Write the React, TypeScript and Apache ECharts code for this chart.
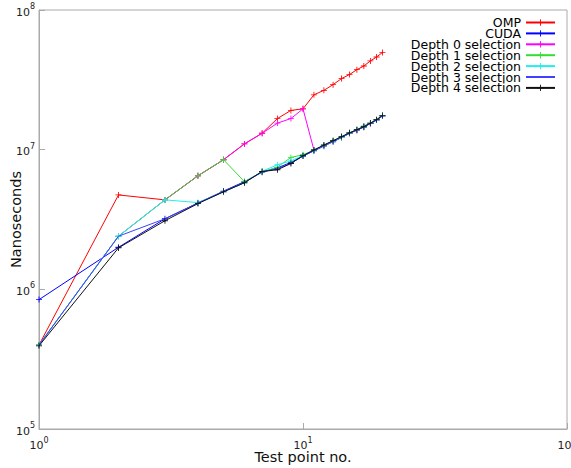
import React, { useEffect, useRef } from "react";
import * as echarts from "echarts";

const testPoints = [1, 2, 3, 4, 5, 6, 7, 8, 9, 10, 11, 12, 13, 14, 15, 16, 17, 18, 19, 20];

const ompValues = [4.0e5, 4.74e6, 4.37e6, 6.5e6, 8.47e6, 1.1e7, 1.31e7, 1.67e7, 1.91e7, 1.96e7, 2.47e7, 2.66e7, 2.92e7, 3.23e7, 3.45e7, 3.74e7, 3.97e7, 4.32e7, 4.61e7, 4.97e7];
const cudaValues = [8.44e5, 2.0e6, 3.2e6, 4.15e6, 5.05e6, 5.9e6, 6.9e6, 7.4e6, 8.1e6, 9.0e6, 9.8e6, 1.06e7, 1.14e7, 1.22e7, 1.31e7, 1.38e7, 1.45e7, 1.54e7, 1.63e7, 1.74e7];
const depth0Values = [4.0e5, 2.4e6, 4.37e6, 6.5e6, 8.47e6, 1.1e7, 1.31e7, 1.55e7, 1.67e7, 1.96e7, 9.95e6, 1.07e7, 1.15e7, 1.23e7, 1.31e7, 1.38e7, 1.47e7, 1.54e7, 1.63e7, 1.75e7];
const depth1Values = [4.0e5, 2.4e6, 4.37e6, 6.5e6, 8.47e6, 5.9e6, 6.95e6, 7.5e6, 8.8e6, 9.2e6, 9.9e6, 1.07e7, 1.16e7, 1.22e7, 1.32e7, 1.39e7, 1.48e7, 1.55e7, 1.64e7, 1.76e7];
const depth2Values = [4.0e5, 2.4e6, 4.37e6, 4.18e6, 5.0e6, 5.8e6, 7.0e6, 7.8e6, 8.3e6, 9.1e6, 9.9e6, 1.07e7, 1.15e7, 1.23e7, 1.31e7, 1.39e7, 1.46e7, 1.55e7, 1.63e7, 1.75e7];
const depth3Values = [4.0e5, 2.4e6, 3.2e6, 4.15e6, 5.0e6, 5.8e6, 6.95e6, 7.3e6, 8.0e6, 9.0e6, 9.9e6, 1.07e7, 1.15e7, 1.23e7, 1.31e7, 1.38e7, 1.46e7, 1.54e7, 1.63e7, 1.75e7];
const depth4Values = [3.94e5, 1.98e6, 3.1e6, 4.11e6, 4.99e6, 5.8e6, 6.98e6, 7.18e6, 7.96e6, 9.05e6, 9.95e6, 1.08e7, 1.16e7, 1.24e7, 1.32e7, 1.39e7, 1.46e7, 1.55e7, 1.64e7, 1.76e7];

const seriesNames = ["OMP", "CUDA", "Depth 0 selection", "Depth 1 selection", "Depth 2 selection", "Depth 3 selection", "Depth 4 selection"];
const seriesColors = ["#ff0000", "#0000ff", "#ff00ff", "#33dd33", "#22eeee", "#4040ff", "#111111"];
const seriesMarkers = [true, true, true, true, true, false, true];
const seriesValues = [ompValues, cudaValues, depth0Values, depth1Values, depth2Values, depth3Values, depth4Values];

const FONT = "DejaVu Sans";
const PLUS = "path://M0,4.3H10V5.7H0Z M4.3,0H5.7V10H4.3Z";

const powLabel = (v: number) => {
  const e = Math.round(Math.log10(v));
  return "{b|10}{s|" + e + "}";
};

const labelRich = {
  b: { fontSize: 11, fontFamily: FONT, color: "#222", lineHeight: 15, verticalAlign: "bottom" },
  s: { fontSize: 8, fontFamily: FONT, color: "#222", verticalAlign: "top" },
};

export default function App() {
  const ref = useRef<HTMLDivElement>(null);
  useEffect(() => {
    if (!ref.current) return;
    const chart = echarts.init(ref.current, null, { renderer: "svg" });
    const series = seriesNames.map((name, i) => ({
      name,
      type: "line",
      data: testPoints.map((x, j) => [x, seriesValues[i][j]]),
      symbol: seriesMarkers[i] ? PLUS : "none",
      symbolSize: 6,
      showSymbol: seriesMarkers[i],
      lineStyle: { color: seriesColors[i], width: 1 },
      itemStyle: { color: seriesColors[i] },
      emphasis: { disabled: true },
      z: 2 + i,
    }));
    const legendData = seriesNames.map((name, i) =>
      seriesMarkers[i] ? { name } : { name, itemStyle: { opacity: 0 } }
    );
    chart.setOption({
      animation: false,
      backgroundColor: "#ffffff",
      textStyle: { fontFamily: FONT },
      grid: {
        left: 39,
        right: 4,
        top: 10,
        bottom: 39,
        show: true,
        borderColor: "#aaaaaa",
        borderWidth: 1,
        outerBoundsMode: "none",
      },
      legend: {
        orient: "vertical",
        right: 15,
        top: 16,
        padding: 0,
        align: "right",
        itemWidth: 29,
        itemHeight: 8,
        itemGap: -2.1,
        data: legendData,
        textStyle: { fontFamily: FONT, fontSize: 12.5, color: "#000", lineHeight: 11, height: 11 },
        selectedMode: false,
      },
      xAxis: {
        type: "log",
        logBase: 10,
        min: 1,
        max: 100,
        name: "Test point no.",
        nameLocation: "middle",
        nameGap: 20,
        nameMoveOverlap: false,
        nameTextStyle: { fontFamily: FONT, fontSize: 14.5, color: "#111" },
        axisLine: { show: true, lineStyle: { color: "#aaaaaa", width: 1 } },
        axisTick: { show: true, inside: true, length: 6, lineStyle: { color: "#aaaaaa" } },
        minorTick: { show: false },
        splitLine: { show: false },
        axisLabel: { formatter: powLabel, rich: labelRich, margin: 7 },
      },
      yAxis: {
        type: "log",
        logBase: 10,
        min: 1e5,
        max: 1e8,
        name: "Nanoseconds",
        nameLocation: "middle",
        nameGap: 16,
        nameMoveOverlap: false,
        nameTextStyle: { fontFamily: FONT, fontSize: 14.5, color: "#111" },
        axisLine: { show: true, lineStyle: { color: "#aaaaaa", width: 1 } },
        axisTick: { show: true, inside: true, length: 6, lineStyle: { color: "#aaaaaa" } },
        splitLine: { show: false },
        axisLabel: { formatter: powLabel, rich: labelRich, margin: 4 },
      },
      series,
    });
    return () => chart.dispose();
  }, []);
  return (
    <div
      ref={ref}
      style={{ position: "absolute", left: 0, top: 0, width: 571, height: 468 }}
    />
  );
}
